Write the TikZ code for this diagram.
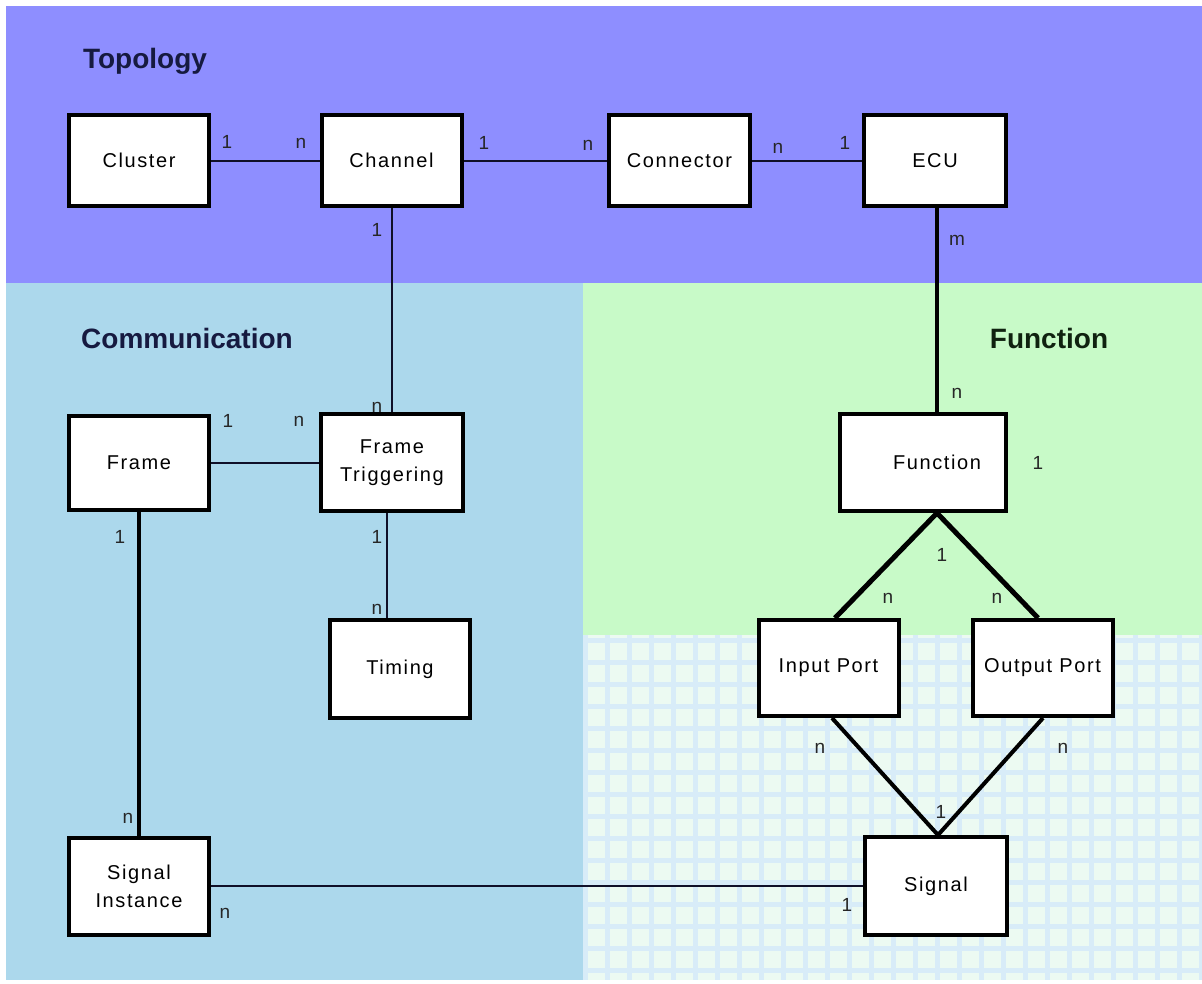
\documentclass[tikz,border=0pt]{standalone}
\usepackage{fontspec}
\setmainfont{Liberation Sans}
\newfontfamily\boxfont[LetterSpace=8]{Liberation Sans}
\definecolor{topo}{RGB}{142,142,255}
\definecolor{comm}{RGB}{172,216,236}
\definecolor{func}{RGB}{200,250,200}
\definecolor{gridbg}{RGB}{236,250,242}
\definecolor{gridln}{RGB}{216,236,248}
\definecolor{titlecol}{RGB}{22,26,64}
\definecolor{titlegreen}{RGB}{16,34,16}
\definecolor{linecol}{RGB}{16,16,40}
\begin{document}
\begin{tikzpicture}[x=1pt,y=-1pt,
  box/.style={draw=black, line width=4pt, fill=white, minimum width=140pt, minimum height=94pt,
    inner sep=0pt, align=center, font=\boxfont\fontsize{20}{28}\selectfont},
  lab/.style={inner sep=0pt, font=\boxfont\fontsize{19}{20}\selectfont, text=black!85},
  thinln/.style={line width=2pt, draw=linecol},
  thickln/.style={line width=4.5pt, draw=black},
  ttl/.style={anchor=base, inner sep=0pt, font=\bfseries\fontsize{28}{32}\selectfont, text=titlecol}]
\useasboundingbox (0,0) rectangle (1202,983);
% backgrounds
\fill[white] (0,0) rectangle (1202,983);
\fill[topo] (6,6) rectangle (1202,283);
\fill[comm] (6,283) rectangle (583,980);
\fill[func] (583,283) rectangle (1202,635);
\fill[gridbg] (583,635) rectangle (1202,980);
\begin{scope}
  \clip (583,635) rectangle (1202,980);
  \foreach \x in {585,607,...,1210} \draw[gridln, line width=5pt] (\x,635) -- (\x,980);
  \foreach \y in {640,662,...,990} \draw[gridln, line width=5pt] (583,\y) -- (1202,\y);
\end{scope}
% titles
\node[ttl] (tTopo) at (145,68) {Topology};
\node[ttl] (tComm) at (187,348) {Communication};
\node[ttl, text=titlegreen] (tFunc) at (1049,348) {Function};
% boxes
\node[box, minimum height=91pt] (cluster) at (139,160.5) {Cluster};
\node[box, minimum height=91pt] (channel) at (391.5,160.5) {Channel};
\node[box, minimum height=91pt, minimum width=141pt] (connector) at (679.5,160.5) {Connector};
\node[box, minimum height=91pt, minimum width=142pt] (ecu) at (935,160.5) {ECU};
\node[box] (frame) at (139,462.5) {Frame};
\node[box, minimum width=142pt, minimum height=97pt] (ft) at (392,462.5) {Frame\\Triggering};
\node[box, minimum height=98pt] (timing) at (400,669) {Timing};
\node[box, minimum height=97pt] (sigi) at (139,886) {Signal\\Instance};
\node[box, minimum width=166pt, minimum height=97pt] (fun) at (923,462.5) {\hspace*{28pt}Function};
\node[box, minimum height=96pt] (ip) at (828.5,668) {Input Port};
\node[box, minimum height=96pt] (op) at (1042.5,668) {Output Port};
\node[box, minimum width=142pt, minimum height=98pt] (sig) at (936,886) {Signal};
% connectors
\draw[thinln] (cluster) -- (channel);
\draw[thinln] (channel) -- (connector);
\draw[thinln] (connector) -- (ecu);
\draw[thinln] (channel.south) -- (channel.south |- ft.north);
\draw[thickln] ([xshift=2pt]ecu.south) -- ([xshift=2pt]ecu.south |- fun.north);
\draw[thinln] (frame) -- (ft);
\draw[thinln] ([xshift=-5pt]ft.south) -- ([xshift=-5pt]ft.south |- timing.north);
\draw[thickln] (frame.south) -- (frame.south |- sigi.north);
\draw[thinln] (sigi) -- (sig);
\coordinate (fv) at ([xshift=14pt]fun.south);
\coordinate (sv) at ([xshift=2pt]sig.north);
\draw[thickln, line width=5pt] (fv) -- ([xshift=6.5pt]ip.north);
\draw[thickln, line width=5pt] (fv) -- ([xshift=-4.5pt]op.north);
\draw[thickln, line width=4pt] ([xshift=3.5pt]ip.south) -- (sv);
\draw[thickln, line width=4pt] ([xshift=0.5pt]op.south) -- (sv);
% multiplicity labels
\node[lab] (m1) at (227,142) {1};
\node[lab] (m2) at (301,143) {n};
\node[lab] (m3) at (484,143) {1};
\node[lab] (m4) at (588,145) {n};
\node[lab] (m5) at (778,148) {n};
\node[lab] (m6) at (845,143) {1};
\node[lab] (m7) at (377,230) {1};
\node[lab] (m8) at (377,407) {n};
\node[lab] (m9) at (957,240) {m};
\node[lab] (m10) at (957,393) {n};
\node[lab] (m11) at (228,421) {1};
\node[lab] (m12) at (299,421) {n};
\node[lab] (m13) at (377,537) {1};
\node[lab] (m14) at (377,609) {n};
\node[lab] (m15) at (120,537) {1};
\node[lab] (m16) at (128,818) {n};
\node[lab] (m17) at (225,913) {n};
\node[lab] (m18) at (847,905) {1};
\node[lab] (m19) at (1038,463) {1};
\node[lab] (m20) at (942,555) {1};
\node[lab] (m21) at (888,598) {n};
\node[lab] (m22) at (997,598) {n};
\node[lab] (m23) at (820,748) {n};
\node[lab] (m24) at (1063,748) {n};
\node[lab] (m25) at (941,812) {1};
\end{tikzpicture}
\end{document}
